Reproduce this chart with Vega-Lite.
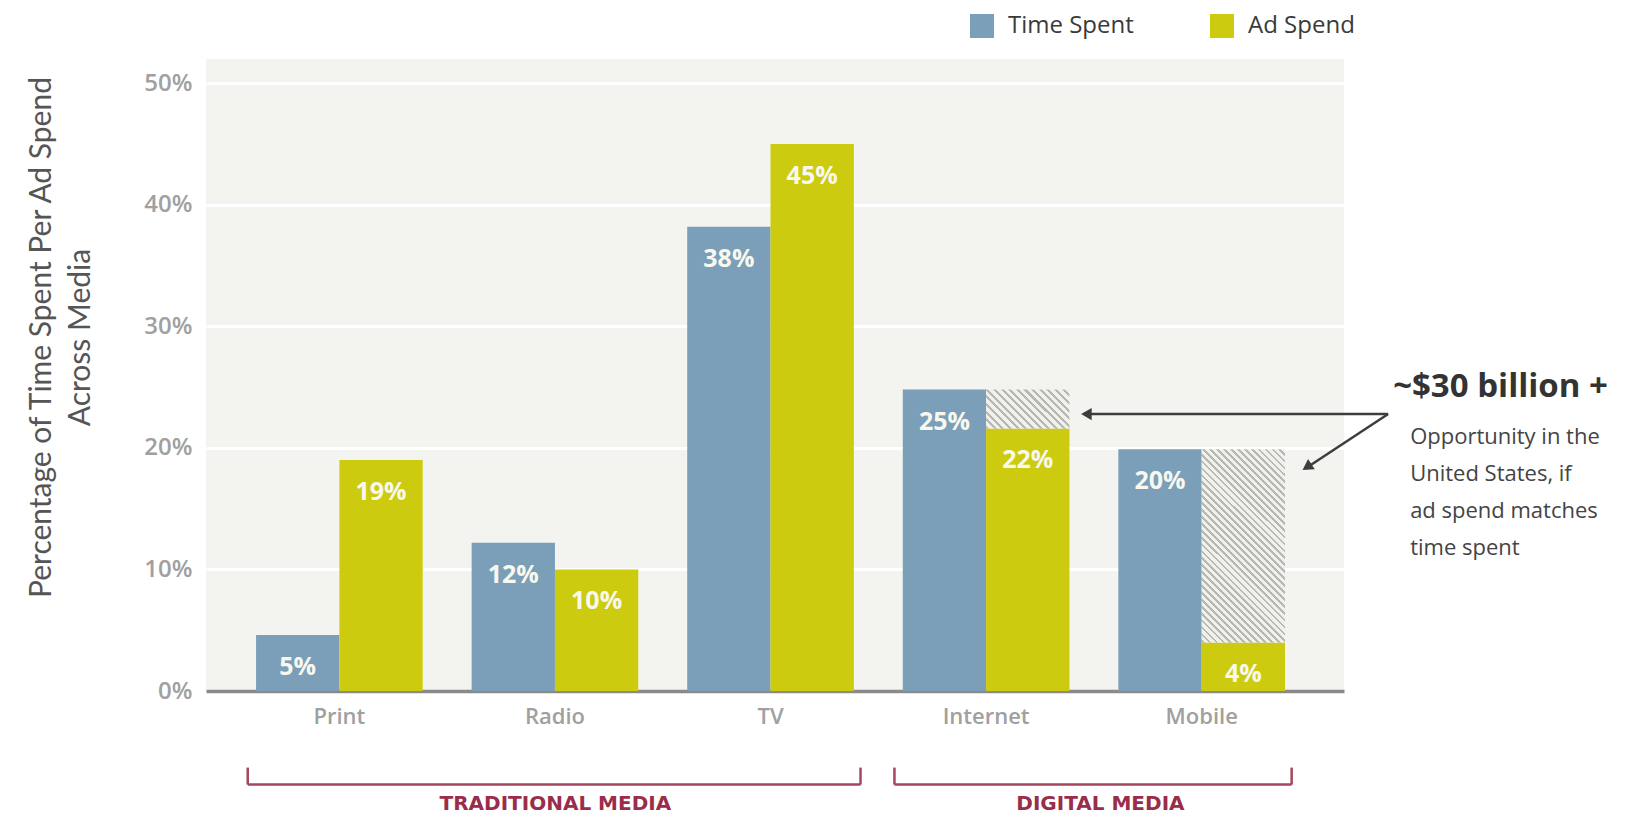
{
  "$schema": "https://vega.github.io/schema/vega-lite/v6.json",
  "width": 1138,
  "height": 632,
  "autosize": {"type": "none"},
  "padding": {"left": 206, "top": 59, "right": 305, "bottom": 124},
  "background": "#ffffff",
  "config": {
    "view": {"fill": "#f3f3ef", "stroke": null},
    "font": "Open Sans"
  },
  "datasets": {
    "bars": [
      {"Media": "Print", "Series": "Time Spent", "value": 4.6, "label": "5%"},
      {"Media": "Print", "Series": "Ad Spend", "value": 19, "label": "19%"},
      {"Media": "Radio", "Series": "Time Spent", "value": 12.2, "label": "12%"},
      {"Media": "Radio", "Series": "Ad Spend", "value": 10, "label": "10%"},
      {"Media": "TV", "Series": "Time Spent", "value": 38.2, "label": "38%"},
      {"Media": "TV", "Series": "Ad Spend", "value": 45, "label": "45%"},
      {"Media": "Internet", "Series": "Time Spent", "value": 24.8, "label": "25%"},
      {"Media": "Internet", "Series": "Ad Spend", "value": 21.6, "label": "22%"},
      {"Media": "Mobile", "Series": "Time Spent", "value": 19.9, "label": "20%"},
      {"Media": "Mobile", "Series": "Ad Spend", "value": 4, "label": "4%"}
    ],
    "gaps": [
      {"Media": "Internet", "Series": "Ad Spend", "low": 21.6, "high": 24.8},
      {"Media": "Mobile", "Series": "Ad Spend", "low": 4, "high": 19.9}
    ],
    "groups": [
      {"group": "TRADITIONAL MEDIA", "from": "Print", "to": "TV"},
      {"group": "DIGITAL MEDIA", "from": "Internet", "to": "Mobile"}
    ],
    "notes": [
      {"Media": "Mobile", "headline": "~$30 billion +", "body": "Opportunity in the\nUnited States, if\nad spend matches\ntime spent"}
    ],
    "arrows": [
      {"target": "Internet", "origin": "Mobile"}
    ]
  },
  "layer": [
    {
      "data": {"name": "bars"},
      "mark": {"type": "bar"},
      "encoding": {
        "x": {
          "field": "Media", "type": "nominal",
          "scale": {"domain": ["Print", "Radio", "TV", "Internet", "Mobile"], "paddingInner": 0.227, "paddingOuter": 0.253, "align": 0.459},
          "axis": {"title": null, "domainColor": "#8a8a8a", "domainWidth": 3.5, "ticks": false, "grid": false, "labelFont": "Open Sans", "labelFontWeight": 600, "labelFontSize": 22, "labelColor": "#a0a0a0", "labelPadding": 15, "labelAngle": 0}
        },
        "xOffset": {"field": "Series", "type": "nominal", "scale": {"domain": ["Time Spent", "Ad Spend"], "paddingInner": 0, "paddingOuter": 0}},
        "y": {
          "field": "value", "type": "quantitative",
          "scale": {"domain": [0, 52], "nice": false, "zero": true},
          "axis": {"values": [0, 10, 20, 30, 40, 50], "labelExpr": "datum.value + '%'", "domain": false, "ticks": false, "grid": true, "gridColor": "#ffffff", "gridWidth": 3, "labelFont": "Open Sans", "labelFontWeight": 600, "labelFontSize": 24, "labelColor": "#a0a0a0", "labelPadding": 14,
            "title": ["Percentage of Time Spent Per Ad Spend", "Across Media"], "titleFont": "Lato", "titleFontWeight": "normal", "titleFontSize": 30, "titleColor": "#555555", "titleLineHeight": 39, "titleX": -165, "titleY": 278, "titleBaseline": "middle", "titleAngle": -90, "titleAlign": "center"}
        },
        "color": {
          "field": "Series", "type": "nominal",
          "scale": {"domain": ["Time Spent", "Ad Spend"], "range": ["#7b9fb8", "#cccb10"]},
          "legend": {"orient": "none", "legendX": 764, "legendY": -45, "direction": "horizontal", "title": null, "symbolType": "square", "symbolSize": 576, "symbolStrokeWidth": 0, "labelFont": "Open Sans", "labelFontSize": 24, "labelColor": "#3a3a3a", "labelOffset": 14, "columnPadding": 76, "padding": 0}
        }
      }
    },
    {
      "data": {"name": "gaps"},
      "transform": [{"filter": "datum.Media === 'Internet'"}],
      "mark": {"type": "bar", "fill": {"gradient": "linear", "x1": 0, "y1": 1, "x2": 1.204, "y2": 0.437, "stops": [
        {"offset": 0, "color": "#b8b8b3"}, {"offset": 0.025, "color": "#b8b8b3"}, {"offset": 0.025, "color": "#f0f0ec"}, {"offset": 0.0625, "color": "#f0f0ec"},
        {"offset": 0.0625, "color": "#b8b8b3"}, {"offset": 0.0875, "color": "#b8b8b3"}, {"offset": 0.0875, "color": "#f0f0ec"}, {"offset": 0.125, "color": "#f0f0ec"},
        {"offset": 0.125, "color": "#b8b8b3"}, {"offset": 0.15, "color": "#b8b8b3"}, {"offset": 0.15, "color": "#f0f0ec"}, {"offset": 0.1875, "color": "#f0f0ec"},
        {"offset": 0.1875, "color": "#b8b8b3"}, {"offset": 0.2125, "color": "#b8b8b3"}, {"offset": 0.2125, "color": "#f0f0ec"}, {"offset": 0.25, "color": "#f0f0ec"},
        {"offset": 0.25, "color": "#b8b8b3"}, {"offset": 0.275, "color": "#b8b8b3"}, {"offset": 0.275, "color": "#f0f0ec"}, {"offset": 0.3125, "color": "#f0f0ec"},
        {"offset": 0.3125, "color": "#b8b8b3"}, {"offset": 0.3375, "color": "#b8b8b3"}, {"offset": 0.3375, "color": "#f0f0ec"}, {"offset": 0.375, "color": "#f0f0ec"},
        {"offset": 0.375, "color": "#b8b8b3"}, {"offset": 0.4, "color": "#b8b8b3"}, {"offset": 0.4, "color": "#f0f0ec"}, {"offset": 0.4375, "color": "#f0f0ec"},
        {"offset": 0.4375, "color": "#b8b8b3"}, {"offset": 0.4625, "color": "#b8b8b3"}, {"offset": 0.4625, "color": "#f0f0ec"}, {"offset": 0.5, "color": "#f0f0ec"},
        {"offset": 0.5, "color": "#b8b8b3"}, {"offset": 0.525, "color": "#b8b8b3"}, {"offset": 0.525, "color": "#f0f0ec"}, {"offset": 0.5625, "color": "#f0f0ec"},
        {"offset": 0.5625, "color": "#b8b8b3"}, {"offset": 0.5875, "color": "#b8b8b3"}, {"offset": 0.5875, "color": "#f0f0ec"}, {"offset": 0.625, "color": "#f0f0ec"},
        {"offset": 0.625, "color": "#b8b8b3"}, {"offset": 0.65, "color": "#b8b8b3"}, {"offset": 0.65, "color": "#f0f0ec"}, {"offset": 0.6875, "color": "#f0f0ec"},
        {"offset": 0.6875, "color": "#b8b8b3"}, {"offset": 0.7125, "color": "#b8b8b3"}, {"offset": 0.7125, "color": "#f0f0ec"}, {"offset": 0.75, "color": "#f0f0ec"},
        {"offset": 0.75, "color": "#b8b8b3"}, {"offset": 0.775, "color": "#b8b8b3"}, {"offset": 0.775, "color": "#f0f0ec"}, {"offset": 0.8125, "color": "#f0f0ec"},
        {"offset": 0.8125, "color": "#b8b8b3"}, {"offset": 0.8375, "color": "#b8b8b3"}, {"offset": 0.8375, "color": "#f0f0ec"}, {"offset": 0.875, "color": "#f0f0ec"},
        {"offset": 0.875, "color": "#b8b8b3"}, {"offset": 0.9, "color": "#b8b8b3"}, {"offset": 0.9, "color": "#f0f0ec"}, {"offset": 0.9375, "color": "#f0f0ec"},
        {"offset": 0.9375, "color": "#b8b8b3"}, {"offset": 0.9625, "color": "#b8b8b3"}, {"offset": 0.9625, "color": "#f0f0ec"}, {"offset": 1, "color": "#f0f0ec"}
      ]}},
      "encoding": {
        "x": {"field": "Media", "type": "nominal"},
        "xOffset": {"field": "Series", "type": "nominal"},
        "y": {"field": "high", "type": "quantitative"},
        "y2": {"field": "low"}
      }
    },
    {
      "data": {"name": "gaps"},
      "transform": [{"filter": "datum.Media === 'Mobile'"}],
      "mark": {"type": "bar", "fill": {"gradient": "linear", "x1": 0, "y1": 1, "x2": 0.52, "y2": -0.207, "stops": [
        {"offset": 0, "color": "#b8b8b3"}, {"offset": 0.01, "color": "#b8b8b3"}, {"offset": 0.01, "color": "#f0f0ec"}, {"offset": 0.025, "color": "#f0f0ec"},
        {"offset": 0.025, "color": "#b8b8b3"}, {"offset": 0.035, "color": "#b8b8b3"}, {"offset": 0.035, "color": "#f0f0ec"}, {"offset": 0.05, "color": "#f0f0ec"},
        {"offset": 0.05, "color": "#b8b8b3"}, {"offset": 0.06, "color": "#b8b8b3"}, {"offset": 0.06, "color": "#f0f0ec"}, {"offset": 0.075, "color": "#f0f0ec"},
        {"offset": 0.075, "color": "#b8b8b3"}, {"offset": 0.085, "color": "#b8b8b3"}, {"offset": 0.085, "color": "#f0f0ec"}, {"offset": 0.1, "color": "#f0f0ec"},
        {"offset": 0.1, "color": "#b8b8b3"}, {"offset": 0.11, "color": "#b8b8b3"}, {"offset": 0.11, "color": "#f0f0ec"}, {"offset": 0.125, "color": "#f0f0ec"},
        {"offset": 0.125, "color": "#b8b8b3"}, {"offset": 0.135, "color": "#b8b8b3"}, {"offset": 0.135, "color": "#f0f0ec"}, {"offset": 0.15, "color": "#f0f0ec"},
        {"offset": 0.15, "color": "#b8b8b3"}, {"offset": 0.16, "color": "#b8b8b3"}, {"offset": 0.16, "color": "#f0f0ec"}, {"offset": 0.175, "color": "#f0f0ec"},
        {"offset": 0.175, "color": "#b8b8b3"}, {"offset": 0.185, "color": "#b8b8b3"}, {"offset": 0.185, "color": "#f0f0ec"}, {"offset": 0.2, "color": "#f0f0ec"},
        {"offset": 0.2, "color": "#b8b8b3"}, {"offset": 0.21, "color": "#b8b8b3"}, {"offset": 0.21, "color": "#f0f0ec"}, {"offset": 0.225, "color": "#f0f0ec"},
        {"offset": 0.225, "color": "#b8b8b3"}, {"offset": 0.235, "color": "#b8b8b3"}, {"offset": 0.235, "color": "#f0f0ec"}, {"offset": 0.25, "color": "#f0f0ec"},
        {"offset": 0.25, "color": "#b8b8b3"}, {"offset": 0.26, "color": "#b8b8b3"}, {"offset": 0.26, "color": "#f0f0ec"}, {"offset": 0.275, "color": "#f0f0ec"},
        {"offset": 0.275, "color": "#b8b8b3"}, {"offset": 0.285, "color": "#b8b8b3"}, {"offset": 0.285, "color": "#f0f0ec"}, {"offset": 0.3, "color": "#f0f0ec"},
        {"offset": 0.3, "color": "#b8b8b3"}, {"offset": 0.31, "color": "#b8b8b3"}, {"offset": 0.31, "color": "#f0f0ec"}, {"offset": 0.325, "color": "#f0f0ec"},
        {"offset": 0.325, "color": "#b8b8b3"}, {"offset": 0.335, "color": "#b8b8b3"}, {"offset": 0.335, "color": "#f0f0ec"}, {"offset": 0.35, "color": "#f0f0ec"},
        {"offset": 0.35, "color": "#b8b8b3"}, {"offset": 0.36, "color": "#b8b8b3"}, {"offset": 0.36, "color": "#f0f0ec"}, {"offset": 0.375, "color": "#f0f0ec"},
        {"offset": 0.375, "color": "#b8b8b3"}, {"offset": 0.385, "color": "#b8b8b3"}, {"offset": 0.385, "color": "#f0f0ec"}, {"offset": 0.4, "color": "#f0f0ec"},
        {"offset": 0.4, "color": "#b8b8b3"}, {"offset": 0.41, "color": "#b8b8b3"}, {"offset": 0.41, "color": "#f0f0ec"}, {"offset": 0.425, "color": "#f0f0ec"},
        {"offset": 0.425, "color": "#b8b8b3"}, {"offset": 0.435, "color": "#b8b8b3"}, {"offset": 0.435, "color": "#f0f0ec"}, {"offset": 0.45, "color": "#f0f0ec"},
        {"offset": 0.45, "color": "#b8b8b3"}, {"offset": 0.46, "color": "#b8b8b3"}, {"offset": 0.46, "color": "#f0f0ec"}, {"offset": 0.475, "color": "#f0f0ec"},
        {"offset": 0.475, "color": "#b8b8b3"}, {"offset": 0.485, "color": "#b8b8b3"}, {"offset": 0.485, "color": "#f0f0ec"}, {"offset": 0.5, "color": "#f0f0ec"},
        {"offset": 0.5, "color": "#b8b8b3"}, {"offset": 0.51, "color": "#b8b8b3"}, {"offset": 0.51, "color": "#f0f0ec"}, {"offset": 0.525, "color": "#f0f0ec"},
        {"offset": 0.525, "color": "#b8b8b3"}, {"offset": 0.535, "color": "#b8b8b3"}, {"offset": 0.535, "color": "#f0f0ec"}, {"offset": 0.55, "color": "#f0f0ec"},
        {"offset": 0.55, "color": "#b8b8b3"}, {"offset": 0.56, "color": "#b8b8b3"}, {"offset": 0.56, "color": "#f0f0ec"}, {"offset": 0.575, "color": "#f0f0ec"},
        {"offset": 0.575, "color": "#b8b8b3"}, {"offset": 0.585, "color": "#b8b8b3"}, {"offset": 0.585, "color": "#f0f0ec"}, {"offset": 0.6, "color": "#f0f0ec"},
        {"offset": 0.6, "color": "#b8b8b3"}, {"offset": 0.61, "color": "#b8b8b3"}, {"offset": 0.61, "color": "#f0f0ec"}, {"offset": 0.625, "color": "#f0f0ec"},
        {"offset": 0.625, "color": "#b8b8b3"}, {"offset": 0.635, "color": "#b8b8b3"}, {"offset": 0.635, "color": "#f0f0ec"}, {"offset": 0.65, "color": "#f0f0ec"},
        {"offset": 0.65, "color": "#b8b8b3"}, {"offset": 0.66, "color": "#b8b8b3"}, {"offset": 0.66, "color": "#f0f0ec"}, {"offset": 0.675, "color": "#f0f0ec"},
        {"offset": 0.675, "color": "#b8b8b3"}, {"offset": 0.685, "color": "#b8b8b3"}, {"offset": 0.685, "color": "#f0f0ec"}, {"offset": 0.7, "color": "#f0f0ec"},
        {"offset": 0.7, "color": "#b8b8b3"}, {"offset": 0.71, "color": "#b8b8b3"}, {"offset": 0.71, "color": "#f0f0ec"}, {"offset": 0.725, "color": "#f0f0ec"},
        {"offset": 0.725, "color": "#b8b8b3"}, {"offset": 0.735, "color": "#b8b8b3"}, {"offset": 0.735, "color": "#f0f0ec"}, {"offset": 0.75, "color": "#f0f0ec"},
        {"offset": 0.75, "color": "#b8b8b3"}, {"offset": 0.76, "color": "#b8b8b3"}, {"offset": 0.76, "color": "#f0f0ec"}, {"offset": 0.775, "color": "#f0f0ec"},
        {"offset": 0.775, "color": "#b8b8b3"}, {"offset": 0.785, "color": "#b8b8b3"}, {"offset": 0.785, "color": "#f0f0ec"}, {"offset": 0.8, "color": "#f0f0ec"},
        {"offset": 0.8, "color": "#b8b8b3"}, {"offset": 0.81, "color": "#b8b8b3"}, {"offset": 0.81, "color": "#f0f0ec"}, {"offset": 0.825, "color": "#f0f0ec"},
        {"offset": 0.825, "color": "#b8b8b3"}, {"offset": 0.835, "color": "#b8b8b3"}, {"offset": 0.835, "color": "#f0f0ec"}, {"offset": 0.85, "color": "#f0f0ec"},
        {"offset": 0.85, "color": "#b8b8b3"}, {"offset": 0.86, "color": "#b8b8b3"}, {"offset": 0.86, "color": "#f0f0ec"}, {"offset": 0.875, "color": "#f0f0ec"},
        {"offset": 0.875, "color": "#b8b8b3"}, {"offset": 0.885, "color": "#b8b8b3"}, {"offset": 0.885, "color": "#f0f0ec"}, {"offset": 0.9, "color": "#f0f0ec"},
        {"offset": 0.9, "color": "#b8b8b3"}, {"offset": 0.91, "color": "#b8b8b3"}, {"offset": 0.91, "color": "#f0f0ec"}, {"offset": 0.925, "color": "#f0f0ec"},
        {"offset": 0.925, "color": "#b8b8b3"}, {"offset": 0.935, "color": "#b8b8b3"}, {"offset": 0.935, "color": "#f0f0ec"}, {"offset": 0.95, "color": "#f0f0ec"},
        {"offset": 0.95, "color": "#b8b8b3"}, {"offset": 0.96, "color": "#b8b8b3"}, {"offset": 0.96, "color": "#f0f0ec"}, {"offset": 0.975, "color": "#f0f0ec"},
        {"offset": 0.975, "color": "#b8b8b3"}, {"offset": 0.985, "color": "#b8b8b3"}, {"offset": 0.985, "color": "#f0f0ec"}, {"offset": 1, "color": "#f0f0ec"}
      ]}},
      "encoding": {
        "x": {"field": "Media", "type": "nominal"},
        "xOffset": {"field": "Series", "type": "nominal"},
        "y": {"field": "high", "type": "quantitative"},
        "y2": {"field": "low"}
      }
    },
    {
      "data": {"name": "bars"},
      "mark": {"type": "text", "dy": 32, "baseline": "middle", "align": "center", "font": "Open Sans", "fontWeight": "bold", "fontSize": 25, "color": "#f8f8ef"},
      "encoding": {
        "x": {"field": "Media", "type": "nominal"},
        "xOffset": {"field": "Series", "type": "nominal"},
        "y": {"field": "value", "type": "quantitative"},
        "text": {"field": "label", "type": "nominal"}
      }
    },
    {
      "data": {"name": "groups"},
      "mark": {"type": "rule", "color": "#a4475f", "strokeWidth": 2.5},
      "encoding": {
        "x": {"field": "from", "type": "nominal", "bandPosition": -0.05},
        "x2": {"field": "to", "bandPosition": 1.04},
        "y": {"datum": -7.7, "type": "quantitative"}
      }
    },
    {
      "data": {"name": "groups"},
      "mark": {"type": "rule", "color": "#a4475f", "strokeWidth": 2.5},
      "encoding": {
        "x": {"field": "from", "type": "nominal", "bandPosition": -0.05},
        "y": {"datum": -6.3, "type": "quantitative"},
        "y2": {"datum": -7.7}
      }
    },
    {
      "data": {"name": "groups"},
      "mark": {"type": "rule", "color": "#a4475f", "strokeWidth": 2.5},
      "encoding": {
        "x": {"field": "to", "type": "nominal", "bandPosition": 1.04},
        "y": {"datum": -6.3, "type": "quantitative"},
        "y2": {"datum": -7.7}
      }
    },
    {
      "data": {"name": "groups"},
      "transform": [{"filter": "datum.from === 'Print'"}],
      "mark": {"type": "text", "baseline": "middle", "align": "center", "font": "DejaVu Sans", "fontWeight": "bold", "fontSize": 20, "color": "#9a2d4a"},
      "encoding": {
        "x": {"field": "from", "type": "nominal", "bandPosition": 1.796},
        "y": {"datum": -9.3, "type": "quantitative"},
        "text": {"field": "group", "type": "nominal"}
      }
    },
    {
      "data": {"name": "groups"},
      "transform": [{"filter": "datum.from === 'Internet'"}],
      "mark": {"type": "text", "baseline": "middle", "align": "center", "font": "DejaVu Sans", "fontWeight": "bold", "fontSize": 20, "color": "#9a2d4a"},
      "encoding": {
        "x": {"field": "from", "type": "nominal", "bandPosition": 1.186},
        "y": {"datum": -9.3, "type": "quantitative"},
        "text": {"field": "group", "type": "nominal"}
      }
    },
    {
      "data": {"name": "notes"},
      "mark": {"type": "text", "baseline": "alphabetic", "align": "left", "font": "Open Sans", "fontWeight": "bold", "fontSize": 33, "color": "#333333"},
      "encoding": {
        "x": {"field": "Media", "type": "nominal", "bandPosition": 1.649},
        "y": {"datum": 24.19, "type": "quantitative"},
        "text": {"field": "headline", "type": "nominal"}
      }
    },
    {
      "data": {"name": "notes"},
      "mark": {"type": "text", "baseline": "alphabetic", "align": "left", "font": "Open Sans", "fontSize": 22, "lineHeight": 37, "lineBreak": "\n", "color": "#444444"},
      "encoding": {
        "x": {"field": "Media", "type": "nominal", "bandPosition": 1.751},
        "y": {"datum": 20.32, "type": "quantitative"},
        "text": {"field": "body", "type": "nominal"}
      }
    },
    {
      "data": {"name": "arrows"},
      "mark": {"type": "rule", "color": "#3d3d3d", "strokeWidth": 2.5},
      "encoding": {
        "x": {"field": "target", "type": "nominal", "bandPosition": 1.09},
        "x2": {"field": "origin", "bandPosition": 1.619},
        "y": {"datum": 22.79, "type": "quantitative"}
      }
    },
    {
      "data": {"name": "arrows"},
      "mark": {"type": "rule", "color": "#3d3d3d", "strokeWidth": 2.5},
      "encoding": {
        "x": {"field": "origin", "type": "nominal", "bandPosition": 1.619},
        "x2": {"field": "origin", "bandPosition": 1.125},
        "y": {"datum": 22.79, "type": "quantitative"},
        "y2": {"datum": 18.33}
      }
    },
    {
      "data": {"name": "arrows"},
      "mark": {"type": "point", "shape": "triangle-left", "filled": true, "size": 150, "color": "#3d3d3d", "opacity": 1},
      "encoding": {
        "x": {"field": "target", "type": "nominal", "bandPosition": 1.102},
        "y": {"datum": 22.79, "type": "quantitative"}
      }
    },
    {
      "data": {"name": "arrows"},
      "mark": {"type": "point", "shape": "triangle-left", "filled": true, "size": 150, "color": "#3d3d3d", "opacity": 1, "angle": 326.6},
      "encoding": {
        "x": {"field": "origin", "type": "nominal", "bandPosition": 1.132},
        "y": {"datum": 18.43, "type": "quantitative"}
      }
    }
  ]
}
